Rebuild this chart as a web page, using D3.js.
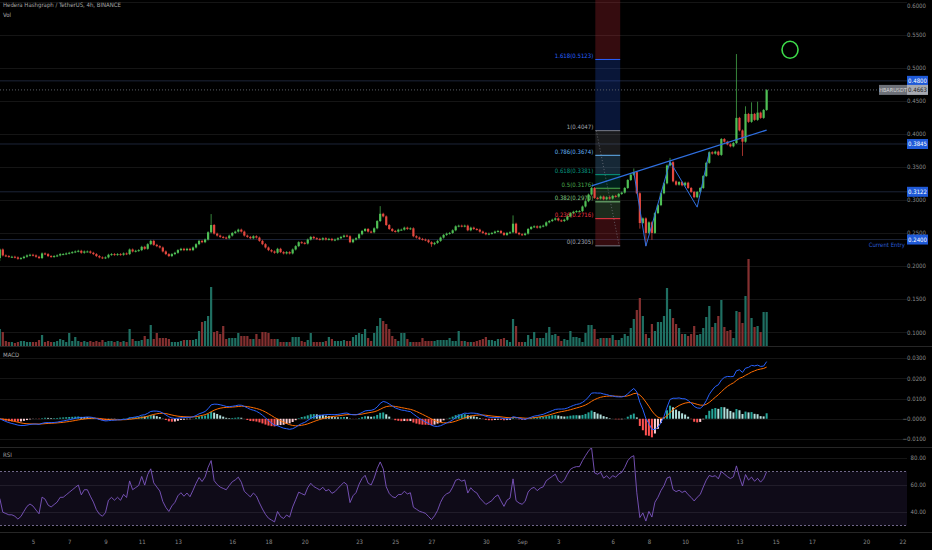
<!DOCTYPE html>
<html>
<head>
<meta charset="utf-8">
<script src="https://cdn.jsdelivr.net/npm/d3@7"></script>
<style>
  body { margin: 0; background: #000; }
  svg { display: block; }
  text { font-family: "Liberation Sans Narrow", "DejaVu Sans Condensed", "Liberation Sans", sans-serif; font-size: 6px; fill: #8c8c8c; }
</style>
</head>
<body>
<svg id="chart" width="932" height="550"></svg>
<script>
// HBAR/USDT 4h candles, 3 Aug - 14 Sep 2021
const title = 'Hedera Hashgraph / TetherUS, 4h, BINANCE';
const firstOpen = 0.212;
const closes = [
	0.225, 0.216, 0.215, 0.214, 0.214, 0.213, 0.211, 0.212, 0.214, 0.216, 0.217, 0.216, 0.214, 0.212, 0.219, 0.218,
	0.215, 0.214, 0.215, 0.216, 0.218, 0.218, 0.219, 0.220, 0.221, 0.222, 0.223, 0.220, 0.222, 0.222, 0.220, 0.218,
	0.215, 0.213, 0.212, 0.213, 0.217, 0.218, 0.217, 0.218, 0.217, 0.219, 0.218, 0.225, 0.222, 0.223, 0.224, 0.229,
	0.226, 0.233, 0.238, 0.232, 0.230, 0.228, 0.222, 0.218, 0.215, 0.218, 0.220, 0.224, 0.226, 0.224, 0.226, 0.224,
	0.228, 0.233, 0.238, 0.236, 0.240, 0.251, 0.262, 0.249, 0.246, 0.244, 0.243, 0.242, 0.246, 0.250, 0.252, 0.255,
	0.252, 0.246, 0.244, 0.242, 0.245, 0.243, 0.238, 0.233, 0.228, 0.224, 0.222, 0.220, 0.226, 0.221, 0.219, 0.221,
	0.219, 0.225, 0.230, 0.236, 0.235, 0.234, 0.240, 0.244, 0.242, 0.241, 0.240, 0.242, 0.240, 0.241, 0.239, 0.240,
	0.242, 0.244, 0.246, 0.245, 0.236, 0.240, 0.242, 0.248, 0.253, 0.256, 0.252, 0.251, 0.257, 0.268, 0.279, 0.275,
	0.262, 0.256, 0.253, 0.252, 0.255, 0.255, 0.258, 0.256, 0.257, 0.245, 0.243, 0.241, 0.240, 0.239, 0.236, 0.233,
	0.235, 0.238, 0.243, 0.247, 0.249, 0.250, 0.254, 0.260, 0.261, 0.260, 0.261, 0.254, 0.258, 0.256, 0.255, 0.252,
	0.250, 0.248, 0.249, 0.250, 0.252, 0.253, 0.250, 0.247, 0.250, 0.251, 0.264, 0.250, 0.248, 0.247, 0.249, 0.256,
	0.259, 0.260, 0.258, 0.260, 0.261, 0.266, 0.268, 0.270, 0.272, 0.269, 0.268, 0.270, 0.275, 0.280, 0.282, 0.283,
	0.283, 0.290, 0.298, 0.308, 0.318, 0.303, 0.302, 0.305, 0.301, 0.304, 0.302, 0.306, 0.305, 0.309, 0.311, 0.318,
	0.330, 0.338, 0.342, 0.310, 0.265, 0.272, 0.250, 0.266, 0.250, 0.280, 0.292, 0.310, 0.325, 0.352, 0.357, 0.328,
	0.323, 0.327, 0.322, 0.326, 0.318, 0.312, 0.304, 0.312, 0.318, 0.336, 0.356, 0.372, 0.370, 0.373, 0.368, 0.392,
	0.388, 0.384, 0.381, 0.386, 0.424, 0.405, 0.388, 0.430, 0.418, 0.430, 0.421, 0.432, 0.424, 0.436, 0.466
];
// only the wicks that stick out visibly
const highs = { 70: 0.277, 126: 0.289, 170: 0.275, 210: 0.346, 222: 0.362, 244: 0.519, 247: 0.440, 249: 0.446, 251: 0.447 };
const lows = { 0: 0.209, 143: 0.2305, 212: 0.258, 214: 0.232, 216: 0.241, 246: 0.368 };
const volumes = [
	17, 14, 5, 4, 4, 3, 4, 5, 5, 4, 4, 4, 4, 6, 11, 4, 5, 4, 4, 5, 7, 6, 4, 13, 5, 9, 5, 4, 5, 4, 5, 4,
	5, 4, 6, 4, 5, 5, 4, 5, 4, 5, 4, 17, 7, 5, 5, 6, 10, 7, 21, 7, 13, 8, 8, 8, 7, 4, 4, 4, 5, 6, 6, 6,
	6, 7, 15, 24, 25, 30, 59, 14, 15, 12, 20, 7, 8, 8, 8, 13, 10, 10, 10, 7, 7, 12, 7, 14, 14, 13, 7, 7,
	7, 4, 4, 4, 4, 9, 9, 9, 5, 4, 6, 13, 4, 4, 4, 4, 5, 9, 7, 5, 5, 5, 6, 5, 5, 9, 11, 13, 12, 17, 8, 5,
	13, 20, 28, 25, 22, 17, 10, 7, 5, 13, 13, 7, 4, 4, 4, 4, 8, 5, 5, 5, 5, 6, 6, 6, 6, 8, 5, 5, 15, 5,
	5, 4, 4, 4, 5, 6, 7, 9, 6, 6, 5, 7, 7, 8, 6, 4, 27, 20, 4, 4, 4, 11, 7, 14, 8, 8, 8, 13, 19, 11, 12,
	10, 5, 7, 6, 15, 9, 9, 8, 4, 13, 21, 21, 17, 7, 8, 8, 8, 8, 11, 6, 6, 8, 12, 10, 18, 27, 36, 48, 30,
	12, 8, 22, 15, 24, 24, 30, 58, 37, 28, 22, 18, 12, 12, 10, 12, 20, 11, 12, 18, 29, 40, 19, 23, 30, 46,
	19, 15, 16, 8, 35, 34, 23, 50, 87, 28, 19, 20, 14, 34, 34
];

// drawings
const fibLow = 0.23048;
const fibHigh = 0.40468;
const fibLevels = [0, 0.236, 0.382, 0.5, 0.618, 0.786, 1, 1.618, 2.618];
const fibColors = ['#787b86', '#f23645', '#81c784', '#4caf50', '#089981', '#64b5f6', '#787b86', '#2962ff', '#f23645'];
const fibTimes = ['2021-09-05T01:00:00Z', '2021-09-06T10:00:00Z'];
const priceLines = [0.48, 0.3845, 0.3122, 0.24];
const lastPrice = 0.4663;
const trendLine = [[196, 0.321], [254, 0.4056]];
const zigzag = [[210, 0.342], [214, 0.230], [222, 0.358], [231, 0.289], [235, 0.372]];
const circleNote = { time: '2021-09-15T19:00:00Z', price: 0.527 };

// axes
const xTickDates = ['2021-08-05', '2021-08-07', '2021-08-09', '2021-08-11', '2021-08-13', '2021-08-16', '2021-08-18',
	'2021-08-20', '2021-08-23', '2021-08-25', '2021-08-27', '2021-08-30', '2021-09-01', '2021-09-03', '2021-09-06',
	'2021-09-08', '2021-09-10', '2021-09-13', '2021-09-15', '2021-09-17', '2021-09-20', '2021-09-22'];
const xTickLabels = ['5', '7', '9', '11', '13', '16', '18', '20', '23', '25', '27', '30', 'Sep', '3', '6', '8', '10', '13', '15', '17', '20', '22'];
const priceTicks = [0.10, 0.15, 0.20, 0.25, 0.30, 0.35, 0.40, 0.45, 0.50, 0.55, 0.60];
const macdTicks = [-0.01, 0, 0.01, 0.02, 0.03];
const rsiTicks = [40, 60, 80];

const W = 907;
const upCol = '#4fbf55', downCol = '#e5483f';
const volUp = '#1f6f62', volDown = '#843030';

const svg = d3.select('#chart');
svg.append('rect').attr('width', 932).attr('height', 550).attr('fill', '#000');

const t0 = Date.UTC(2021, 7, 3, 4);
const H4 = 4 * 3600 * 1000;
const candles = closes.map((c, i) => {
	const o = i === 0 ? firstOpen : closes[i - 1];
	return {
		t: new Date(t0 + i * H4), o, c,
		h: highs[i] !== undefined ? highs[i] : Math.max(o, c),
		l: lows[i] !== undefined ? lows[i] : Math.min(o, c),
		v: volumes[i]
	};
});
const tOf = i => new Date(t0 + i * H4);

const x = d3.scaleTime()
	.domain([new Date('2021-08-05T00:00:00Z'), new Date('2021-09-22T00:00:00Z')])
	.range([33, 902.5]);
const yPrice = d3.scaleLinear().domain([0.2, 0.6]).range([266, 1.5]);
const yVol = d3.scaleLinear().domain([0, 100]).range([346, 246]);
const yMacd = d3.scaleLinear().domain([-0.01, 0.03]).range([439, 358]);
const yRsi = d3.scaleLinear().domain([40, 80]).range([512, 458]);

// indicators from the closes
function ema(arr, n) {
	const k = 2 / (n + 1);
	let e = arr[0];
	return arr.map((v, i) => (e = i ? v * k + e * (1 - k) : v));
}
const ema12 = ema(closes, 12), ema26 = ema(closes, 26);
const macd = closes.map((_, i) => ema12[i] - ema26[i]);
const signal = ema(macd, 9);
const hist = macd.map((m, i) => m - signal[i]);

// RSI 14, seeded with the first 14 moves (first one from the opening price)
const diffs = closes.map((c, i) => c - (i ? closes[i - 1] : firstOpen));
let ag = d3.mean(diffs.slice(0, 14), d => Math.max(d, 0));
let al = d3.mean(diffs.slice(0, 14), d => Math.max(-d, 0));
const rsi = diffs.map((d, i) => {
	if (i) {
		ag = (ag * 13 + Math.max(d, 0)) / 14;
		al = (al * 13 + Math.max(-d, 0)) / 14;
	}
	return 100 - 100 / (1 + ag / al);
});

// panes
const defs = svg.append('defs');
[['clipPrice', 0, 346], ['clipMacd', 347, 100], ['clipRsi', 448, 84]].forEach(([id, y0, h]) => {
	defs.append('clipPath').attr('id', id).append('rect').attr('x', 0).attr('y', y0).attr('width', W).attr('height', h);
});

const grid = svg.append('g').attr('stroke', '#151515').attr('stroke-width', 1);
priceTicks.forEach(p => grid.append('line').attr('x1', 0).attr('x2', W).attr('y1', Math.round(yPrice(p)) + 0.5).attr('y2', Math.round(yPrice(p)) + 0.5));
macdTicks.forEach(p => grid.append('line').attr('x1', 0).attr('x2', W).attr('y1', Math.round(yMacd(p)) + 0.5).attr('y2', Math.round(yMacd(p)) + 0.5));
rsiTicks.forEach(p => grid.append('line').attr('x1', 0).attr('x2', W).attr('y1', Math.round(yRsi(p)) + 0.5).attr('y2', Math.round(yRsi(p)) + 0.5));

svg.append('g').attr('stroke', '#262626')
	.selectAll('line').data([346.5, 447.5, 532.5]).enter().append('line')
	.attr('x1', 0).attr('x2', 932).attr('y1', d => d).attr('y2', d => d);

// horizontal price lines
const pg = svg.append('g').attr('clip-path', 'url(#clipPrice)');
pg.selectAll('line.hl').data(priceLines).enter().append('line')
	.attr('x1', 0).attr('x2', W)
	.attr('y1', d => yPrice(d)).attr('y2', d => yPrice(d))
	.attr('stroke', '#1c2438').attr('stroke-width', 1);

// fib retracement column
const fx0 = x(new Date(fibTimes[0])), fx1 = x(new Date(fibTimes[1]));
const fibPrice = l => fibLow + l * (fibHigh - fibLow);
for (let k = 1; k < fibLevels.length; k++) {
	const yTop = yPrice(fibPrice(fibLevels[k])), yBot = yPrice(fibPrice(fibLevels[k - 1]));
	pg.append('rect').attr('x', fx0).attr('width', fx1 - fx0)
		.attr('y', yTop).attr('height', yBot - yTop)
		.attr('fill', fibColors[k]).attr('fill-opacity', 0.22);
}
fibLevels.slice(0, 8).forEach((l, k) => {
	const yy = yPrice(fibPrice(l));
	pg.append('line').attr('x1', fx0).attr('x2', fx1).attr('y1', yy).attr('y2', yy)
		.attr('stroke', fibColors[k]).attr('stroke-width', 1);
	pg.append('text').attr('x', fx0 - 2).attr('y', yy - 1.5).attr('text-anchor', 'end')
		.style('fill', fibColors[k] === '#787b86' ? '#a5a8b0' : fibColors[k])
		.text(`${l}(${fibPrice(l).toFixed(4)})`);
});
pg.append('line')
	.attr('x1', fx0 + 1).attr('y1', yPrice(fibHigh)).attr('x2', fx1 - 1).attr('y2', yPrice(fibLow))
	.attr('stroke', '#787b86').attr('stroke-dasharray', '1,2').attr('stroke-opacity', 0.7);

// volume
pg.selectAll('rect.vol').data(candles).enter().append('rect')
	.attr('x', d => x(d.t) - 1.1).attr('width', 2.2)
	.attr('y', d => yVol(d.v)).attr('height', d => yVol(0) - yVol(d.v))
	.attr('fill', d => d.c >= d.o ? volUp : volDown);

// candles
const cg = pg.append('g');
cg.selectAll('line').data(candles).enter().append('line')
	.attr('x1', d => x(d.t)).attr('x2', d => x(d.t))
	.attr('y1', d => yPrice(d.h) - 1).attr('y2', d => yPrice(d.l) + 1)
	.attr('stroke', d => d.c >= d.o ? upCol : downCol).attr('stroke-width', 0.7);
cg.selectAll('rect').data(candles).enter().append('rect')
	.attr('x', d => x(d.t) - 1.1).attr('width', 2.2)
	.attr('y', d => yPrice(Math.max(d.o, d.c)))
	.attr('height', d => Math.max(1, Math.abs(yPrice(d.o) - yPrice(d.c))))
	.attr('fill', d => d.c >= d.o ? upCol : downCol);

// user drawings
const line = d3.line().x(d => x(tOf(d[0]))).y(d => yPrice(d[1]));
pg.append('path').attr('d', line(trendLine)).attr('fill', 'none').attr('stroke', '#2f6fe0').attr('stroke-width', 1.3);
pg.append('path').attr('d', line(zigzag)).attr('fill', 'none').attr('stroke', '#2f6fe0').attr('stroke-width', 1);
pg.append('ellipse')
	.attr('cx', x(new Date(circleNote.time))).attr('cy', yPrice(circleNote.price))
	.attr('rx', 8).attr('ry', 8.5)
	.attr('fill', 'none').attr('stroke', '#3ddc4a').attr('stroke-width', 1.6);
pg.append('line').attr('x1', 0).attr('x2', W).attr('y1', yPrice(lastPrice)).attr('y2', yPrice(lastPrice))
	.attr('stroke', '#5a5d66').attr('stroke-dasharray', '1,2');

// MACD pane
const mg = svg.append('g').attr('clip-path', 'url(#clipMacd)');
mg.selectAll('rect').data(hist).enter().append('rect')
	.attr('x', (d, i) => x(tOf(i)) - 1).attr('width', 2)
	.attr('y', d => Math.min(yMacd(d), yMacd(0)))
	.attr('height', d => Math.abs(yMacd(d) - yMacd(0)))
	.attr('fill', (d, i) => {
		const rising = i > 0 && d > hist[i - 1];
		if (d >= 0) return rising ? '#26a69a' : '#b2dfdb';
		return rising ? '#ffcdd2' : '#ff5252';
	});
const mline = d3.line().x((d, i) => x(tOf(i))).y(d => yMacd(d));
mg.append('path').attr('d', mline(signal)).attr('fill', 'none').attr('stroke', '#ff6d00').attr('stroke-width', 1);
mg.append('path').attr('d', mline(macd)).attr('fill', 'none').attr('stroke', '#2962ff').attr('stroke-width', 1);

// RSI pane
const rg = svg.append('g').attr('clip-path', 'url(#clipRsi)');
rg.append('rect').attr('x', 0).attr('width', W).attr('y', yRsi(70)).attr('height', yRsi(30) - yRsi(70))
	.attr('fill', '#7e57c2').attr('fill-opacity', 0.12);
[70, 30].forEach(v => rg.append('line').attr('x1', 0).attr('x2', W).attr('y1', yRsi(v)).attr('y2', yRsi(v))
	.attr('stroke', '#8a7fa8').attr('stroke-dasharray', '2,2').attr('stroke-width', 0.8));
rg.append('path').attr('d', d3.line().x((d, i) => x(tOf(i))).y(d => yRsi(d))(rsi))
	.attr('fill', 'none').attr('stroke', '#7e57c2').attr('stroke-width', 0.9);

// right axes
function rightAxis(scale, ticks, fmt) {
	const g = svg.append('g').attr('transform', 'translate(926,0)')
		.call(d3.axisRight(scale).tickValues(ticks).tickFormat(fmt).tickSize(0));
	g.select('.domain').remove();
	g.selectAll('text').attr('x', 0).attr('text-anchor', 'end').style('fill', '#8c8c8c').style('font-size', '6px');
	return g;
}
const pAxis = rightAxis(yPrice, priceTicks, d3.format('.4f'));
pAxis.selectAll('.tick').filter(d => d === 0.6).select('text').attr('dy', '0.95em');
rightAxis(yMacd, macdTicks, d => d === 0 ? '\u22120.0000' : d3.format('.4f')(d));
rightAxis(yRsi, rsiTicks, d3.format('.2f'));

// bottom axis
const xa = svg.append('g').attr('transform', 'translate(0,537)')
	.call(d3.axisBottom(x).tickValues(xTickDates.map(d => new Date(d + 'T00:00:00Z'))).tickFormat((d, i) => xTickLabels[i]).tickSize(0));
xa.select('.domain').remove();
xa.selectAll('text').style('fill', '#8c8c8c').style('font-size', '6px');

// axis price boxes
const boxes = svg.append('g');
priceLines.forEach(p => {
	const yy = yPrice(p);
	boxes.append('rect').attr('x', 907).attr('y', yy - 5).attr('width', 21).attr('height', 10).attr('fill', '#1f5ad8');
	boxes.append('text').attr('x', 917.5).attr('y', yy + 2).attr('text-anchor', 'middle').style('fill', '#fff').text(p.toFixed(4));
});
const ly = yPrice(lastPrice);
boxes.append('rect').attr('x', 879).attr('y', ly - 5).attr('width', 28).attr('height', 10).attr('fill', '#6d7078');
boxes.append('text').attr('x', 893).attr('y', ly + 2).attr('text-anchor', 'middle').style('fill', '#d8d8d8').style('font-size', '5.5px').text('HBARUSDT');
boxes.append('rect').attr('x', 907).attr('y', ly - 5).attr('width', 21).attr('height', 10).attr('fill', '#a6a9b1');
boxes.append('text').attr('x', 917.5).attr('y', ly + 2).attr('text-anchor', 'middle').style('fill', '#222').text(lastPrice.toFixed(4));
svg.append('text').attr('x', 905).attr('y', yPrice(0.24) + 7).attr('text-anchor', 'end').style('fill', '#2a5bd7').text('Current Entry');

// pane titles
svg.append('text').attr('x', 3).attr('y', 7).style('fill', '#a8a8a8').text(title);
svg.append('text').attr('x', 3).attr('y', 17).style('fill', '#a8a8a8').text('Vol');
svg.append('text').attr('x', 3).attr('y', 357).style('fill', '#a8a8a8').text('MACD');
svg.append('text').attr('x', 3).attr('y', 457).style('fill', '#a8a8a8').text('RSI');
</script>
</body>
</html>
